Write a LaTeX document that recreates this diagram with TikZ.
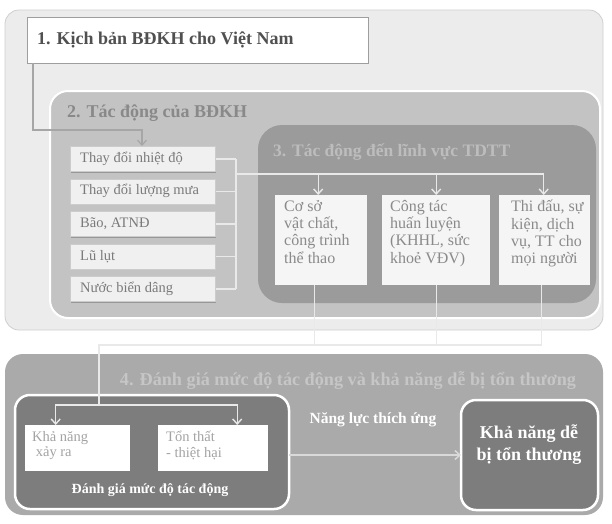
\documentclass[tikz,border=0pt]{standalone}
\usepackage{fontspec}
\setmainfont{Liberation Serif}
\usetikzlibrary{arrows.meta,shadows}
\definecolor{pageA}{HTML}{ECECEC}
\definecolor{pageEdge}{HTML}{CFCFCF}
\definecolor{boxTwo}{HTML}{C3C3C3}
\definecolor{boxThree}{HTML}{9B9B9B}
\definecolor{boxFour}{HTML}{AAAAAA}
\definecolor{darkBox}{HTML}{7D7D7D}
\definecolor{titleOne}{HTML}{505050}
\definecolor{titleTwo}{HTML}{898989}
\definecolor{titleThree}{HTML}{BDBDBD}
\definecolor{titleFour}{HTML}{C6C6C6}
\definecolor{itemText}{HTML}{7A7A7A}
\definecolor{cardText}{HTML}{8A8A8A}
\definecolor{smallText}{HTML}{A3A3A3}
\definecolor{wire}{HTML}{E9E9E9}
\definecolor{wireGray}{HTML}{A6A6A6}
\begin{document}
\begin{tikzpicture}[x=1pt,y=-1pt,
  panel/.style={anchor=north west,inner sep=0pt,outer sep=0pt},
  itembox/.style={anchor=north west,minimum width=145pt,minimum height=25pt,inner sep=0pt,
    fill=white!94!black,draw=white!80!black,line width=0.6pt,
    drop shadow={shadow xshift=0.6pt,shadow yshift=-1.6pt,fill=black!45,opacity=0.8}},
  itemtext/.style={anchor=west,inner sep=0pt,font=\fontsize{14.5}{16}\selectfont,text=itemText},
  card/.style={anchor=north west,minimum height=90pt,inner sep=0pt,fill=white!96!black},
  cardtext/.style={anchor=north west,inner sep=0pt,align=left,text=cardText,
    font=\fontsize{16}{17.3}\selectfont},
  smallcard/.style={anchor=north west,minimum height=46pt,inner sep=0pt,fill=white},
  smalltext/.style={anchor=north west,inner sep=0pt,align=left,text=smallText,
    font=\fontsize{14.5}{15.5}\selectfont},
  wireline/.style={draw=wire,line width=1.4pt},
  wirearrow/.style={wireline,-{Straight Barb[length=5pt,width=9pt,line width=1.4pt]}},
]
\useasboundingbox (0,0) rectangle (612,523);
\fill[white] (0,0) rectangle (612,523);

% panel 1 background
\node[panel,minimum width=598pt,minimum height=320pt,fill=pageA,draw=pageEdge,line width=0.8pt,
  rounded corners=14pt] (P1) at (5,10) {};
% box 1
\node[panel,minimum width=341pt,minimum height=46pt,fill=white,draw=white!62!black,line width=1pt] (B1) at (27,17) {};
\node[anchor=west,inner sep=0pt,text=titleOne,font=\fontsize{18}{20}\selectfont\bfseries] (T1) at (37,40) {1. Kịch bản BĐKH cho Việt Nam};

% box 2
\node[panel,minimum width=550pt,minimum height=227pt,fill=boxTwo,draw=white,line width=2pt,
  rounded corners=18pt] (B2) at (50,91) {};
\node[anchor=west,inner sep=0pt,text=titleTwo,font=\fontsize{18}{20}\selectfont\bfseries] (T2) at (67,113) {2. Tác động của BĐKH};

% box 3
\node[panel,minimum width=338pt,minimum height=178pt,fill=boxThree,rounded corners=24pt] (B3) at (258,125) {};
\node[anchor=west,inner sep=0pt,text=titleThree,font=\fontsize{17.5}{20}\selectfont\bfseries] (T3) at (273,152) {3. Tác động đến lĩnh vực TDTT};

% left items
\node[itembox] (i1) at (70,146) {};
\node[itembox] (i2) at (70,178.5) {};
\node[itembox] (i3) at (70,211) {};
\node[itembox] (i4) at (70,243.5) {};
\node[itembox] (i5) at (70,276) {};
\node[itemtext] (l1) at ([xshift=10pt]i1.west) {Thay đổi nhiệt độ};
\node[itemtext] (l2) at ([xshift=10pt]i2.west) {Thay đổi lượng mưa};
\node[itemtext] (l3) at ([xshift=10pt]i3.west) {Bão, ATNĐ};
\node[itemtext] (l4) at ([xshift=10pt]i4.west) {Lũ lụt};
\node[itemtext] (l5) at ([xshift=10pt]i5.west) {Nước biển dâng};

% cards in box 3
\node[card,minimum width=92pt] (cA) at (275,195) {};
\node[card,minimum width=108pt] (cB) at (382,195) {};
\node[card,minimum width=91pt] (cC) at (499,195) {};
\node[cardtext] (tA) at (284,200) {Cơ sở\\vật chất,\\công trình\\thể thao};
\node[cardtext] (tB) at (390,200) {Công tác\\huấn luyện\\(KHHL, sức\\khoẻ VĐV)};
\node[cardtext] (tC) at (511,200) {Thi đấu, sự\\kiện, dịch\\vụ, TT cho\\mọi người};

% panel 4
\node[panel,minimum width=598pt,minimum height=161pt,fill=boxFour,rounded corners=18pt] (P4) at (5,354) {};
\node[anchor=center,inner sep=0pt,text=titleFour,font=\fontsize{18.2}{20}\selectfont\bfseries] (T4) at (348,381) {4. Đánh giá mức độ tác động và khả năng dễ bị tổn thương};

\node[panel,minimum width=274pt,minimum height=114pt,fill=darkBox,draw=white,line width=2.5pt,
  rounded corners=15pt] (E) at (15,395) {};
\node[smallcard,minimum width=105pt] (s1) at (25,425) {};
\node[smallcard,minimum width=110pt] (s2) at (158,425) {};
\node[smalltext] (u1) at (32,431) {Khả năng\\\ xảy ra};
\node[smalltext] (u2) at (166,431) {Tổn thất\\- thiệt hại};
\node[anchor=center,inner sep=0pt,text=white,font=\fontsize{14}{16}\selectfont\bfseries] (EL) at (150,490) {Đánh giá mức độ tác động};

\node[panel,minimum width=137pt,minimum height=110pt,fill=darkBox,draw=white,line width=2.5pt,
  rounded corners=15pt] (V) at (461,400) {};
\node[anchor=center,inner sep=0pt,align=center,text=white,font=\fontsize{18}{22}\selectfont\bfseries] (VL) at (529,445) {Khả năng dễ\\bị tổn thương};

% connectors
\coordinate (k1) at ([xshift=6pt]B1.south west);
\draw[draw=wireGray,line width=1.2pt,-{Straight Barb[length=5pt,width=9pt,line width=1.2pt]}]
  (k1) -- ++(0,67) -| ([xshift=72pt]i1.north west);

\coordinate (br) at (236,174);
\foreach \i in {1,...,5} {\draw[wireline] (i\i.east) -- (i\i.east -| br);}
\draw[wireline] (i1.east -| br) -- (i5.east -| br);
\draw[wirearrow] (br) -| ([xshift=-3pt]cA.north);
\draw[wirearrow] (br) -| (cB.north);
\draw[wirearrow] (br) -| ([xshift=-1pt]cC.north);

\coordinate (jn) at (99,345);
\coordinate (sp) at (99,405);
\draw[wireline] ([xshift=-7pt]cA.south) -- ([xshift=-7pt]cA.south |- jn);
\draw[wireline] (cB.south) -- (cB.south |- jn);
\draw[wireline] ([xshift=-3pt]cC.south) -- ([xshift=-3pt]cC.south |- jn) -- (jn) -- (sp);
\draw[wirearrow] (sp) -| ([xshift=-22pt]s1.north);
\draw[wirearrow] (sp) -| ([xshift=24pt]s2.north);

\draw[draw=white!85!black,line width=1.5pt,-{Straight Barb[length=5pt,width=9pt,line width=1.5pt]}]
  (E.east |- 0,455) -- (V.west |- 0,455);
\node[anchor=center,inner sep=0pt,text=white,font=\fontsize{15.5}{17}\selectfont\bfseries] (NL) at (373,420) {Năng lực thích ứng};
\end{tikzpicture}
\end{document}
